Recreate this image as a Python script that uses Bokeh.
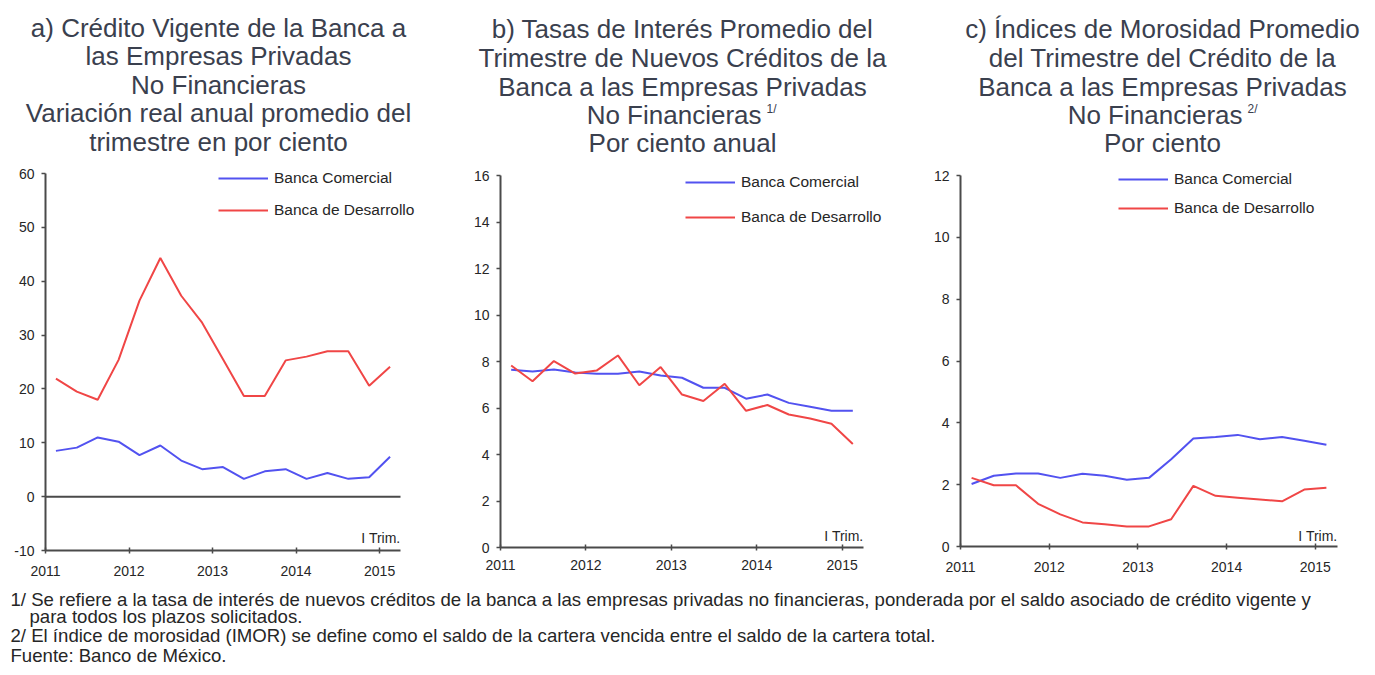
import numpy as np
from bokeh.plotting import figure
from bokeh.models import Label, Legend, LegendItem, FixedTicker, Range1d
from bokeh.layouts import row, column
from bokeh.embed import file_html
from bokeh.resources import INLINE

# ---------------- data ----------------
quarters = ["2011 I", "2011 II", "2011 III", "2011 IV",
            "2012 I", "2012 II", "2012 III", "2012 IV",
            "2013 I", "2013 II", "2013 III", "2013 IV",
            "2014 I", "2014 II", "2014 III", "2014 IV",
            "2015 I"]
year_labels = ["2011", "2012", "2013", "2014", "2015"]

credito_comercial = [8.5, 9.1, 11.0, 10.2, 7.7, 9.5, 6.7, 5.1, 5.5, 3.3, 4.7, 5.1, 3.3, 4.4, 3.3, 3.6, 7.4]
credito_desarrollo = [21.9, 19.5, 18.0, 25.4, 36.4, 44.3, 37.3, 32.3, 25.5, 18.7, 18.7, 25.3, 26.0, 27.0, 27.0, 20.6, 24.1]

tasa_comercial = [7.65, 7.57, 7.66, 7.53, 7.47, 7.47, 7.57, 7.40, 7.30, 6.87, 6.87, 6.40, 6.58, 6.22, 6.05, 5.88, 5.88]
tasa_desarrollo = [7.83, 7.15, 8.02, 7.48, 7.61, 8.26, 6.98, 7.76, 6.58, 6.30, 7.04, 5.88, 6.13, 5.72, 5.55, 5.32, 4.45]

imor_comercial = [2.02, 2.29, 2.36, 2.36, 2.22, 2.35, 2.29, 2.16, 2.22, 2.82, 3.49, 3.54, 3.61, 3.47, 3.54, 3.42, 3.29]
imor_desarrollo = [2.22, 1.98, 1.98, 1.38, 1.04, 0.78, 0.72, 0.65, 0.65, 0.88, 1.96, 1.64, 1.58, 1.52, 1.46, 1.84, 1.90]

series_names = ["Banca Comercial", "Banca de Desarrollo"]

titles_a = ["a) Crédito Vigente de la Banca a", "las Empresas Privadas", "No Financieras",
            "Variación real anual promedio del", "trimestre en por ciento"]
titles_b = ["b) Tasas de Interés Promedio del", "Trimestre de Nuevos Créditos de la",
            "Banca a las Empresas Privadas", "No Financieras", "Por ciento anual"]
titles_c = ["c) Índices de Morosidad Promedio", "del Trimestre del Crédito de la",
            "Banca a las Empresas Privadas", "No Financieras", "Por ciento"]

footnotes = [
    "1/ Se refiere a la tasa de interés de nuevos créditos de la banca a las empresas privadas no financieras, ponderada por el saldo asociado de crédito vigente y",
    "para todos los plazos solicitados.",
    "2/ El índice de morosidad (IMOR) se define como el saldo de la cartera vencida entre el saldo de la cartera total.",
    "Fuente: Banco de México.",
]

# ---------------- style ----------------
FONT = "Liberation Sans"
BLUE = "#5252f0"
RED = "#f04646"
AXIS = "#4a4a4a"
TITLE_COLOR = "#3a404e"
TEXT = "#262626"

TITLE_H = 158
CHART_H = 428


def make_panel(axis_w, axis_h, left, right_extra, top_extra, height, yrange, yticks,
               comercial, desarrollo, legend_xy, legend_spacing, trim_y, total_w,
               xlabel_standoff, zero_line=False):
    n = len(quarters)
    ymin, ymax = yrange
    frame_w = axis_w + right_extra
    frame_h = axis_h + top_extra
    x_end = n * frame_w / axis_w
    y_end = ymax + (ymax - ymin) * top_extra / axis_h
    top = 2
    bottom = height - top - frame_h
    p = figure(frame_width=frame_w, frame_height=frame_h, title=None,
               x_range=Range1d(0, x_end), y_range=Range1d(ymin, y_end),
               output_backend="svg", toolbar_location=None,
               min_border_left=left, min_border_right=total_w - left - frame_w,
               min_border_top=top, min_border_bottom=bottom,
               outline_line_color=None, background_fill_color="white",
               border_fill_color="white")
    p.grid.visible = False

    for ax in (p.xaxis[0], p.yaxis[0]):
        ax.axis_line_color = AXIS
        ax.axis_line_width = 2
        ax.major_tick_line_color = AXIS
        ax.major_tick_line_width = 1.5
        ax.minor_tick_line_color = None
        ax.major_label_text_font = FONT
        ax.major_label_text_font_size = "14px"
        ax.major_label_text_color = TEXT
        ax.axis_label_standoff = 0
    p.yaxis.ticker = FixedTicker(ticks=yticks)
    p.yaxis.bounds = (ymin, ymax)
    p.yaxis.major_label_overrides = {t: str(t) for t in yticks}
    p.yaxis.major_tick_out = 4
    p.yaxis.major_tick_in = 0
    p.yaxis.major_label_standoff = 7
    xt = [i * 4 for i in range(len(year_labels))]
    p.xaxis.ticker = FixedTicker(ticks=xt)
    p.xaxis.bounds = (0, n)
    p.xaxis.major_label_overrides = {t: lab for t, lab in zip(xt, year_labels)}
    p.xaxis.major_tick_out = 3
    p.xaxis.major_tick_in = 3
    p.xaxis.major_label_standoff = xlabel_standoff

    if zero_line:
        p.segment(x0=0, y0=0, x1=n, y1=0, line_color=AXIS, line_width=2)

    x = np.arange(n) + 0.5
    r1 = p.line(x, comercial, line_color=BLUE, line_width=2)
    r2 = p.line(x, desarrollo, line_color=RED, line_width=2)

    legend = Legend(items=[LegendItem(label=series_names[0], renderers=[r1]),
                           LegendItem(label=series_names[1], renderers=[r2])],
                    location=legend_xy, orientation="vertical",
                    glyph_width=50, glyph_height=20, label_height=20,
                    label_standoff=6, spacing=legend_spacing, padding=0, margin=0,
                    border_line_color=None, background_fill_alpha=0,
                    label_text_font=FONT, label_text_font_size="15.5px",
                    label_text_color=TEXT)
    p.add_layout(legend)

    p.add_layout(Label(x=n, y=trim_y, y_units="screen", text="I Trim.",
                       text_align="right", text_baseline="middle",
                       text_font=FONT, text_font_size="14px", text_color=TEXT))
    return p


pa = make_panel(355, 377, 45, 25, 13, CHART_H, (-10, 60), list(range(-10, 61, 10)),
                credito_comercial, credito_desarrollo, (173, 330), 12, 13, 460, 12, zero_line=True)
pb = make_panel(363, 372, 40, 25, 15, CHART_H, (0, 16), list(range(0, 17, 2)),
                tasa_comercial, tasa_desarrollo, (185, 320), 15, 12, 460, 9)
pc = make_panel(377, 371, 40, 5, 15, CHART_H, (0, 12), list(range(0, 13, 2)),
                imor_comercial, imor_desarrollo, (158, 328), 9, 11, 453, 12)

# ---------------- titles (own text-only figure) ----------------
tfig = figure(width=1373, height=TITLE_H, title=None, x_axis_type=None, y_axis_type=None,
              x_range=Range1d(0, 1), y_range=Range1d(0, 1),
              output_backend="svg", toolbar_location=None,
              min_border_left=0, min_border_right=0, min_border_top=0, min_border_bottom=0,
              outline_line_color=None)
tfig.grid.visible = False

TITLE_SIZE = "26px"
title_specs = [
    (titles_a, 218, [27, 55, 84, 112, 141], None),
    (titles_b, 682, [28, 57, 86, 114, 142], (761, "1/")),
    (titles_c, 1162, [28, 57, 86, 114, 142], (1242, "2/")),
]
for lines, cx, ys, sup in title_specs:
    for i, (txt, yy) in enumerate(zip(lines, ys)):
        if sup is not None and i == 3:
            tfig.add_layout(Label(x=sup[0], y=TITLE_H - yy, x_units="screen", y_units="screen",
                                  text=txt, text_align="right", text_baseline="middle",
                                  text_font=FONT, text_font_size=TITLE_SIZE, text_color=TITLE_COLOR))
            tfig.add_layout(Label(x=sup[0] + 5, y=TITLE_H - yy + 6, x_units="screen", y_units="screen",
                                  text=sup[1], text_align="left", text_baseline="middle",
                                  text_font=FONT, text_font_size="12px", text_color=TITLE_COLOR))
        else:
            tfig.add_layout(Label(x=cx, y=TITLE_H - yy, x_units="screen", y_units="screen",
                                  text=txt, text_align="center", text_baseline="middle",
                                  text_font=FONT, text_font_size=TITLE_SIZE, text_color=TITLE_COLOR))

# ---------------- footnotes ----------------
FOOT_H = 86
foot = figure(width=1373, height=FOOT_H, title=None, x_axis_type=None, y_axis_type=None,
              x_range=Range1d(0, 1), y_range=Range1d(0, 1),
              output_backend="svg", toolbar_location=None,
              min_border_left=0, min_border_right=0, min_border_top=0, min_border_bottom=0,
              outline_line_color=None)
foot.grid.visible = False
foot_top = TITLE_H + CHART_H
foot_pos = [(10, 599), (29, 616), (10, 635), (10, 655)]
for txt, (fx, fy) in zip(footnotes, foot_pos):
    foot.add_layout(Label(x=fx, y=FOOT_H - (fy - foot_top), x_units="screen", y_units="screen",
                          text=txt, text_align="left", text_baseline="middle",
                          text_font=FONT, text_font_size="18.6px", text_color=TEXT))

layout = column(tfig, row(pa, pb, pc), foot)
open("out.html", "w").write(file_html(layout, INLINE))
